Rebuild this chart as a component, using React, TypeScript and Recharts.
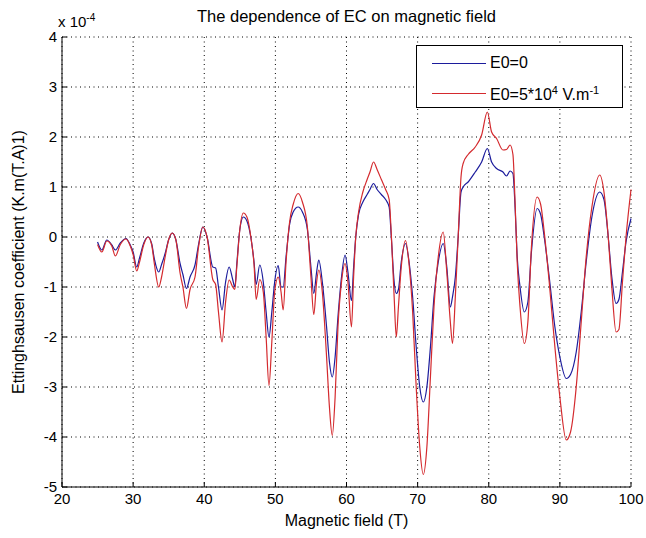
import { LineChart, Line, XAxis, YAxis, CartesianGrid, Label } from 'recharts';

// magnetic field (T)
const field = [
  25.0, 25.6, 26.3, 27.0, 27.5, 28.2, 29.0, 29.6, 30.0, 30.5, 30.9, 31.5, 32.1, 32.6, 33.0, 33.6, 34.0, 34.5, 35.0, 35.5,
  36.0, 36.6, 37.0, 37.5, 38.0, 38.7, 39.2, 39.8, 40.4, 41.2, 41.6, 42.0, 42.5, 43.0, 43.5, 44.0, 44.3, 44.6, 45.0, 45.5,
  46.0, 46.6, 47.0, 47.3, 47.8, 48.3, 48.7, 49.1, 49.5, 49.9, 50.4, 50.8, 51.1, 51.5, 52.0, 52.5, 53.2, 53.8, 54.5, 55.0,
  55.4, 55.8, 56.1, 56.6, 57.2, 57.6, 58.0, 58.4, 58.8, 59.3, 59.8, 60.2, 60.7, 61.0, 61.3, 61.7, 62.3, 62.9, 63.3, 63.8,
  64.3, 64.9, 65.5, 66.0, 66.3, 66.7, 67.0, 67.3, 67.7, 68.3, 68.8, 69.3, 69.8, 70.3, 70.8, 71.3, 71.8, 72.3, 72.9, 73.6,
  74.1, 74.6, 74.9, 75.3, 75.7, 76.1, 76.4, 77.1, 78.1, 79.0, 79.8, 80.4, 81.1, 82.0, 82.5, 83.0, 83.4, 83.7, 84.0, 84.4,
  85.0, 85.5, 86.0, 86.8, 87.3, 87.8, 88.5, 89.3, 90.0, 90.9, 91.5, 92.3, 93.0, 93.7, 94.5, 95.6, 96.2, 96.8, 97.3, 97.9,
  98.3, 98.8, 99.3, 100.0,
];

// EC, E0 = 0 (x 1e-4)
const ecZero = [
  -0.1, -0.26, -0.06, -0.16, -0.26, -0.12, -0.03, -0.16, -0.3, -0.6, -0.42, -0.12, 0.0, -0.13, -0.45, -0.7, -0.55, -0.33, -0.05, 0.08,
  -0.05, -0.53, -0.75, -1.03, -0.8, -0.56, -0.15, 0.2, 0.0, -0.6, -0.62, -1.0, -1.46, -0.9, -0.6, -0.85, -1.0, -0.5, 0.15, 0.4,
  0.32, -0.05, -0.5, -0.95, -0.56, -0.9, -1.5, -2.0, -1.5, -0.9, -0.57, -1.0, -1.0, -0.4, 0.25, 0.5, 0.6, 0.5, 0.15, -0.6,
  -1.13, -0.7, -0.46, -0.9, -1.8, -2.5, -2.8, -2.4, -1.6, -0.8, -0.36, -0.7, -1.27, -0.6, 0.0, 0.45, 0.7, 0.85, 0.95, 1.07,
  0.95, 0.85, 0.75, 0.6, 0.0, -0.9, -1.13, -1.05, -0.5, -0.13, -0.5, -1.2, -2.2, -3.0, -3.3, -3.0, -2.2, -1.2, -0.5, -0.13,
  -0.6, -1.4, -1.2, -0.8, 0.0, 0.9, 1.0, 1.1, 1.3, 1.5, 1.77, 1.5, 1.37, 1.3, 1.22, 1.32, 1.27, 0.6, -0.4, -1.0,
  -1.5, -1.3, -0.3, 0.57, 0.45, 0.0, -0.8, -1.8, -2.4, -2.83, -2.75, -2.3, -1.5, -0.5, 0.4, 0.9, 0.75, 0.0, -0.8, -1.33,
  -1.25, -0.7, -0.1, 0.37,
];

// EC, E0 = 5*10^4 V/m (x 1e-4)
const ecField = [
  -0.15, -0.3, -0.08, -0.18, -0.38, -0.15, -0.04, -0.18, -0.35, -0.68, -0.5, -0.15, 0.0, -0.15, -0.55, -1.0, -0.8, -0.4, -0.05, 0.08,
  -0.05, -0.72, -1.0, -1.43, -1.05, -0.8, -0.2, 0.2, 0.0, -0.85, -0.95, -1.5, -2.1, -1.3, -0.86, -1.0, -1.05, -0.55, 0.15, 0.48,
  0.4, -0.05, -0.55, -1.25, -0.85, -1.1, -2.0, -2.97, -2.1, -1.1, -0.8, -1.1, -1.46, -0.5, 0.3, 0.65, 0.87, 0.7, 0.2, -0.8,
  -1.55, -0.9, -0.66, -1.1, -2.4, -3.4, -3.97, -3.2, -1.8, -0.9, -0.53, -0.9, -1.8, -0.8, 0.0, 0.5, 0.9, 1.15, 1.3, 1.5,
  1.35, 1.15, 0.95, 0.75, 0.05, -1.2, -2.0, -1.4, -0.6, -0.07, -0.55, -1.5, -3.0, -4.2, -4.75, -4.2, -2.8, -1.4, -0.4, 0.1,
  -0.7, -1.7, -2.13, -1.2, 0.0, 1.2, 1.47, 1.65, 1.8, 2.04, 2.5, 2.1, 1.97, 1.74, 1.75, 1.84, 1.65, 0.7, -0.5, -1.4,
  -2.13, -1.7, -0.2, 0.8, 0.65, 0.1, -0.9, -2.2, -3.2, -4.06, -3.9, -3.0, -1.7, -0.4, 0.6, 1.24, 0.9, 0.0, -1.0, -1.9,
  -1.85, -0.9, 0.0, 0.95,
];

const xTicks = [20, 30, 40, 50, 60, 70, 80, 90, 100];
const yTicks = [-5, -4, -3, -2, -1, 0, 1, 2, 3, 4];
const seriesNames = ['E0=0', 'E0=5*10^4 V.m^-1'];
const seriesColors = ['#1c1c9c', '#d42a2e'];

const data = field.map((t, i) => ({ t, zero: ecZero[i], field: ecField[i] }));

const FONT = '"Liberation Sans", Arial, sans-serif';

const BottomTick = (props: any) => {
  const { x, y, payload } = props;
  return (
    <g>
      <line x1={x} y1={y} x2={x} y2={y - 5} stroke="#000" />
      <text x={x} y={y + 17} textAnchor="middle" fontSize={15} fontFamily={FONT} fill="#000">
        {payload.value}
      </text>
    </g>
  );
};

const TopTick = (props: any) => {
  const { x, y } = props;
  return <line x1={x} y1={y} x2={x} y2={y + 5} stroke="#000" />;
};

const LeftTick = (props: any) => {
  const { x, y, payload } = props;
  return (
    <g>
      <line x1={x} y1={y} x2={x + 5} y2={y} stroke="#000" />
      <text x={x - 5} y={y + 5} textAnchor="end" fontSize={15} fontFamily={FONT} fill="#000">
        {payload.value}
      </text>
    </g>
  );
};

const RightTick = (props: any) => {
  const { x, y } = props;
  return <line x1={x} y1={y} x2={x - 5} y2={y} stroke="#000" />;
};

const YLabel = (props: any) => {
  const vb = props.viewBox;
  const cx = vb.x + 24;
  const cy = vb.y + vb.height / 2;
  return (
    <text x={cx} y={cy} transform={`rotate(-90 ${cx} ${cy})`} textAnchor="middle" fontSize={16} fontFamily={FONT} fill="#000">
      Ettinghsausen coefficient (K.m(T.A)1)
    </text>
  );
};

const XLabel = (props: any) => {
  const vb = props.viewBox;
  return (
    <text x={vb.x + vb.width / 2} y={vb.y + 39} textAnchor="middle" fontSize={16} fontFamily={FONT} fill="#000">
      Magnetic field (T)
    </text>
  );
};

const Sup = ({ label }: { label: string }) => {
  // "^x" parts become superscripts
  const parts = label.split(/\^(-?\d|-)/);
  return (
    <>
      {parts.map((p, i) => (i % 2 === 1 ? <sup key={i} style={{ fontSize: 11 }}>{p}</sup> : <span key={i}>{p}</span>))}
    </>
  );
};

export default function App() {
  return (
    <div style={{ position: 'absolute', left: 0, top: 0, width: 646, height: 538, background: '#fff', fontFamily: FONT }}>
      <div style={{ position: 'absolute', left: 62, width: 569, top: 6, textAlign: 'center', fontSize: 16.5, lineHeight: '20px' }}>
        The dependence of EC on magnetic field
      </div>
      <div style={{ position: 'absolute', left: 58, top: 8, fontSize: 15, lineHeight: '20px' }}>
        x 10<sup style={{ fontSize: 10 }}>-4</sup>
      </div>
      <LineChart width={646} height={538} data={data} margin={{ top: 37, right: 15, bottom: 31, left: 0 }}>
        <CartesianGrid stroke="#000" strokeDasharray="1 3.5" />
        <XAxis
          dataKey="t"
          type="number"
          domain={[20, 100]}
          ticks={xTicks}
          height={20}
          tickSize={0}
          tickMargin={0}
          tickLine={false}
          axisLine={{ stroke: '#000' }}
          tick={<BottomTick />}
        >
          <Label content={<XLabel />} />
        </XAxis>
        <XAxis
          xAxisId="top"
          orientation="top"
          dataKey="t"
          type="number"
          domain={[20, 100]}
          ticks={xTicks}
          height={0}
          tickSize={0}
          tickMargin={0}
          tickLine={false}
          axisLine={{ stroke: '#000' }}
          tick={<TopTick />}
        />
        <YAxis
          type="number"
          domain={[-5, 4]}
          ticks={yTicks}
          width={62}
          tickSize={0}
          tickMargin={0}
          tickLine={false}
          axisLine={{ stroke: '#000' }}
          tick={<LeftTick />}
          allowDataOverflow
        >
          <Label content={<YLabel />} />
        </YAxis>
        <YAxis
          yAxisId="right"
          orientation="right"
          type="number"
          domain={[-5, 4]}
          ticks={yTicks}
          width={0}
          tickSize={0}
          tickMargin={0}
          tickLine={false}
          axisLine={{ stroke: '#000' }}
          tick={<RightTick />}
        />
        <Line type="monotone" dataKey="zero" name={seriesNames[0]} stroke={seriesColors[0]} strokeWidth={1.2} dot={false} isAnimationActive={false} />
        <Line type="monotone" dataKey="field" name={seriesNames[1]} stroke={seriesColors[1]} strokeWidth={1.2} dot={false} isAnimationActive={false} />
      </LineChart>
      <div
        style={{
          position: 'absolute',
          left: 416,
          top: 45,
          width: 205,
          height: 61,
          border: '1px solid #000',
          background: '#fff',
          fontSize: 16,
        }}
      >
        {seriesNames.map((n, i) => (
          <div
            key={n}
            style={{ position: 'absolute', left: 15, top: i === 0 ? 6 : 36, height: 22, display: 'flex', alignItems: 'center', whiteSpace: 'nowrap' }}
          >
            <div style={{ width: 54, height: 0, borderTop: `1px solid ${seriesColors[i]}`, marginRight: 4 }} />
            <span style={{ lineHeight: '22px' }}><Sup label={n} /></span>
          </div>
        ))}
      </div>
    </div>
  );
}
